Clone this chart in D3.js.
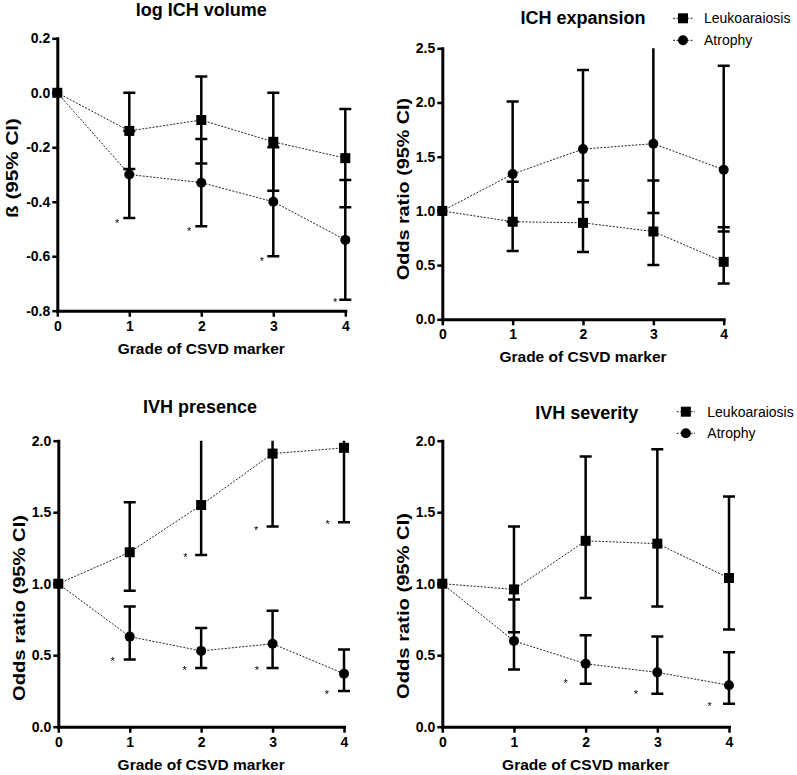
<!DOCTYPE html>
<html><head><meta charset="utf-8">
<script src="https://cdn.jsdelivr.net/npm/d3@7"></script>
<style>
body{margin:0;background:#fff}
svg{display:block}
text{font-family:"Liberation Sans",Arial,Helvetica,sans-serif;fill:#000}
</style>
</head><body>
<svg id="c" width="797" height="775"></svg>
<script>
// ---------- DATA ----------
const grades = [0, 1, 2, 3, 4];
const seriesNames = ["Leukoaraiosis", "Atrophy"];

// log ICH volume (beta)
const volLeuko     = [0, -0.14, -0.10, -0.18, -0.24];
const volLeukoLo   = [null, -0.28, -0.26, -0.36, -0.42];
const volLeukoHi   = [null, 0.00, 0.06, 0.00, -0.06];
const volAtrophy   = [0, -0.30, -0.33, -0.40, -0.54];
const volAtrophyLo = [null, -0.46, -0.49, -0.60, -0.76];
const volAtrophyHi = [null, -0.14, -0.17, -0.20, -0.32];
const volStarGrades = [0.83, 1.83, 2.84, 3.86];
const volStarValues = [-0.47, -0.50, -0.61, -0.76];
const volTicks = [0.2, 0.0, -0.2, -0.4, -0.6, -0.8];
const volTickLabels = ["0.2", "0.0", "-0.2", "-0.4", "-0.6", "-0.8"];

// ICH expansion (odds ratio)
const expLeuko     = [1, 0.90, 0.89, 0.81, 0.53];
const expLeukoLo   = [null, 0.63, 0.62, 0.50, 0.33];
const expLeukoHi   = [null, 1.27, 1.28, 1.28, 0.85];
const expAtrophy   = [1, 1.34, 1.57, 1.62, 1.38];
const expAtrophyLo = [null, 0.90, 1.08, 0.98, 0.81];
const expAtrophyHi = [null, 2.01, 2.30, 2.70, 2.34];
const expStarGrades = [];
const expStarValues = [];
const expTicks = [0, 0.5, 1.0, 1.5, 2.0, 2.5];
const expTickLabels = ["0.0", "0.5", "1.0", "1.5", "2.0", "2.5"];

// IVH presence (odds ratio)
const presLeuko     = [1, 1.22, 1.55, 1.91, 1.95];
const presLeukoLo   = [null, 0.95, 1.20, 1.40, 1.43];
const presLeukoHi   = [null, 1.57, 2.05, 2.60, 2.66];
const presAtrophy   = [1, 0.63, 0.53, 0.58, 0.37];
const presAtrophyLo = [null, 0.47, 0.41, 0.41, 0.25];
const presAtrophyHi = [null, 0.84, 0.69, 0.81, 0.54];
const presStarGrades = [0.76, 1.77, 2.78, 3.76, 1.78, 2.77, 3.77];
const presStarValues = [0.47, 0.41, 0.41, 0.24, 1.20, 1.39, 1.43];
const presTicks = [0, 0.5, 1.0, 1.5, 2.0];
const presTickLabels = ["0.0", "0.5", "1.0", "1.5", "2.0"];

// IVH severity (odds ratio)
const sevLeuko     = [1, 0.96, 1.30, 1.28, 1.04];
const sevLeukoLo   = [null, 0.66, 0.90, 0.84, 0.68];
const sevLeukoHi   = [null, 1.40, 1.89, 1.94, 1.61];
const sevAtrophy   = [1, 0.60, 0.44, 0.38, 0.29];
const sevAtrophyLo = [null, 0.40, 0.30, 0.23, 0.16];
const sevAtrophyHi = [null, 0.89, 0.64, 0.63, 0.52];
const sevStarGrades = [1.72, 2.70, 3.73];
const sevStarValues = [0.32, 0.24, 0.16];
const sevTicks = [0, 0.5, 1.0, 1.5, 2.0];
const sevTickLabels = ["0.0", "0.5", "1.0", "1.5", "2.0"];

const xLabel = "Grade of CSVD marker";

// ---------- LAYOUT ----------
const svg = d3.select("#c");
const FONT_TICK = 14, FONT_TITLE = 18, FONT_XLAB = 15.5, FONT_YLAB = 16.5;

// no-op filter to force grayscale antialiasing of the small asterisks
const defs = svg.append("defs");
defs.append("filter").attr("id", "gray").append("feOffset").attr("dx", 0).attr("dy", 0);

const panels = [
  {id:"p1", title:"log ICH volume", ylab:"ß (95% CI)", ylabLen:100, x0:57.3, x1:345.3, yTop:38.3, yBot:310.7,
   domain:[-0.8, 0.2], ticks:volTicks, tickLabels:volTickLabels, titleX:201.3, titleY:16,
   ylabX:12, ylabY:168,
   leuko:[volLeuko, volLeukoLo, volLeukoHi], atrophy:[volAtrophy, volAtrophyLo, volAtrophyHi],
   stars:[volStarGrades, volStarValues], legend:null},
  {id:"p2", title:"ICH expansion", ylab:"Odds ratio (95% CI)", ylabLen:182, x0:442.3, x1:723.7, yTop:48.3, yBot:319.3,
   domain:[0, 2.5], ticks:expTicks, tickLabels:expTickLabels, titleX:583, titleY:24,
   ylabX:402.5, ylabY:189,
   leuko:[expLeuko, expLeukoLo, expLeukoHi], atrophy:[expAtrophy, expAtrophyLo, expAtrophyHi],
   stars:[expStarGrades, expStarValues], legend:{lx0:673, lx1:693, tx:704, y1:18.3, y2:40.3}},
  {id:"p3", title:"IVH presence", ylab:"Odds ratio (95% CI)", ylabLen:186, x0:58.3, x1:344, yTop:440.7, yBot:726.7,
   domain:[0, 2], ticks:presTicks, tickLabels:presTickLabels, titleX:200, titleY:413,
   ylabX:19, ylabY:608,
   leuko:[presLeuko, presLeukoLo, presLeukoHi], atrophy:[presAtrophy, presAtrophyLo, presAtrophyHi],
   stars:[presStarGrades, presStarValues], legend:null},
  {id:"p4", title:"IVH severity", ylab:"Odds ratio (95% CI)", ylabLen:186, x0:442.3, x1:729, yTop:440.7, yBot:726.7,
   domain:[0, 2], ticks:sevTicks, tickLabels:sevTickLabels, titleX:586.7, titleY:419,
   ylabX:402.5, ylabY:606,
   leuko:[sevLeuko, sevLeukoLo, sevLeukoHi], atrophy:[sevAtrophy, sevAtrophyLo, sevAtrophyHi],
   stars:[sevStarGrades, sevStarValues], legend:{lx0:676.7, lx1:695, tx:707.3, y1:411.7, y2:433.3}}
];

function drawSquare(sel, cx, cy, s) {
  sel.append("rect").attr("x", cx - s/2).attr("y", cy - s/2).attr("width", s).attr("height", s).attr("fill", "#000");
}
function drawCircle(sel, cx, cy, r) {
  sel.append("circle").attr("cx", cx).attr("cy", cy).attr("r", r).attr("fill", "#000");
}

panels.forEach(p => {
  const g = svg.append("g");
  const x = d3.scaleLinear().domain([0, 4]).range([p.x0, p.x1]);
  const y = d3.scaleLinear().domain(p.domain).range([p.yBot, p.yTop]);

  defs.append("clipPath").attr("id", "clip-" + p.id)
    .append("rect").attr("x", p.x0 - 20).attr("y", p.yTop).attr("width", p.x1 - p.x0 + 40).attr("height", p.yBot - p.yTop);

  // Y axis
  const ya = d3.axisLeft(y).tickValues(p.ticks).tickFormat((d, i) => p.tickLabels[i]).tickSize(5).tickSizeOuter(0).tickPadding(2);
  const yg = g.append("g").attr("transform", `translate(${p.x0},0)`).call(ya);
  yg.select(".domain").attr("stroke", "#000").attr("stroke-width", 3).attr("stroke-linecap", "square");
  yg.selectAll(".tick line").attr("stroke", "#000").attr("stroke-width", 2.5);
  yg.selectAll(".tick text").attr("font-size", FONT_TICK).attr("font-weight", "bold")
    .attr("font-family", '"Liberation Sans",Arial,sans-serif').attr("fill", "#000");

  // X axis
  const xa = d3.axisBottom(x).tickValues(grades).tickFormat(d3.format("d")).tickSize(6).tickSizeOuter(0).tickPadding(4);
  const xg = g.append("g").attr("transform", `translate(0,${p.yBot})`).call(xa);
  xg.select(".domain").attr("stroke", "#000").attr("stroke-width", 3).attr("stroke-linecap", "square");
  xg.selectAll(".tick line").attr("stroke", "#000").attr("stroke-width", 2.5);
  xg.selectAll(".tick text").attr("font-size", FONT_TICK).attr("font-weight", "bold")
    .attr("font-family", '"Liberation Sans",Arial,sans-serif').attr("fill", "#000");

  // Title
  g.append("text").attr("x", p.titleX).attr("y", p.titleY).attr("text-anchor", "middle")
    .attr("font-size", FONT_TITLE).attr("font-weight", "bold").text(p.title);
  // X label
  g.append("text").attr("x", (p.x0 + p.x1) / 2).attr("y", p.yBot + 43).attr("text-anchor", "middle")
    .attr("font-size", FONT_XLAB).attr("font-weight", "bold").text(xLabel);
  // Y label
  g.append("text").attr("transform", `translate(${p.ylabX},${p.ylabY}) rotate(-90)`)
    .attr("text-anchor", "middle").attr("dominant-baseline", "central")
    .attr("textLength", p.ylabLen).attr("lengthAdjust", "spacingAndGlyphs")
    .attr("font-size", FONT_YLAB).attr("font-weight", "bold").text(p.ylab);

  const series = [
    {vals: p.atrophy, shape: "circle"},
    {vals: p.leuko, shape: "square"}
  ];

  const line = d3.line().x((d, i) => x(grades[i])).y(d => y(d));
  series.forEach(s => {
    g.append("path").attr("d", line(s.vals[0])).attr("fill", "none")
      .attr("stroke", "#222").attr("stroke-width", 1).attr("stroke-dasharray", "2,1.5");
  });

  const eb = g.append("g").attr("clip-path", `url(#clip-${p.id})`);
  series.forEach(s => {
    const [v, lo, hi] = s.vals;
    grades.forEach((gr, i) => {
      if (lo[i] == null) return;
      const cx = x(gr);
      eb.append("line").attr("x1", cx).attr("x2", cx).attr("y1", y(lo[i])).attr("y2", y(hi[i]))
        .attr("stroke", "#000").attr("stroke-width", 2.5);
      [lo[i], hi[i]].forEach(c => {
        eb.append("line").attr("x1", cx - 6).attr("x2", cx + 6).attr("y1", y(c)).attr("y2", y(c))
          .attr("stroke", "#000").attr("stroke-width", 2.5);
      });
    });
  });

  series.forEach(s => {
    s.vals[0].forEach((v, i) => {
      if (s.shape === "circle") drawCircle(g, x(grades[i]), y(v), 5);
      else drawSquare(g, x(grades[i]), y(v), 10);
    });
  });

  // asterisks
  const [sg, sv] = p.stars;
  const sgrp = g.append("g").attr("filter", "url(#gray)");
  sg.forEach((gr, i) => {
    sgrp.append("text").attr("x", x(gr)).attr("y", y(sv[i]) + 6).attr("text-anchor", "middle")
      .attr("font-size", 11).attr("fill", "#000").text("*");
  });

  if (p.legend) {
    const L = p.legend;
    const rows = [{name: seriesNames[0], shape: "square", yy: L.y1}, {name: seriesNames[1], shape: "circle", yy: L.y2}];
    rows.forEach(r => {
      g.append("line").attr("x1", L.lx0).attr("x2", L.lx1).attr("y1", r.yy).attr("y2", r.yy)
        .attr("stroke", "#222").attr("stroke-width", 1).attr("stroke-dasharray", "2,1.5");
      const mx = (L.lx0 + L.lx1) / 2;
      if (r.shape === "circle") drawCircle(g, mx, r.yy, 5); else drawSquare(g, mx, r.yy, 10);
      g.append("text").attr("x", L.tx).attr("y", r.yy).attr("dominant-baseline", "central")
        .attr("font-size", 14).text(r.name);
    });
  }
});
</script>
</body></html>
